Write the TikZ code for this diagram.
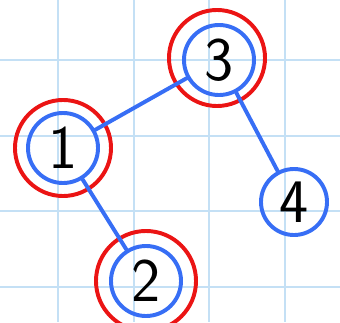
\documentclass[tikz,border=0pt]{standalone}
\definecolor{gridblue}{RGB}{196,224,245}
\definecolor{penblue}{RGB}{55,110,245}
\definecolor{penred}{RGB}{235,20,20}
\tikzset{
  gridline/.style={gridblue, line width=1.4pt},
  vtx/.style={circle, draw=penblue, line width=2.8pt, minimum size=1.75cm, inner sep=0pt,
    font=\sffamily\fontsize{44}{44}\selectfont},
  ring/.style={circle, draw=penred, line width=2.8pt, minimum size=2.4cm, inner sep=0pt},
  edge/.style={penblue, line width=2.8pt, line cap=round},
}
\begin{document}
\begin{tikzpicture}[x=0.025cm, y=-0.025cm]
  % 画像サイズ (px)
  \def\w{340}
  \def\h{322}
  \clip (0,0) rectangle (\w,\h);

  % 方眼
  \foreach \x in {58,134,209,285} \draw[gridline] (\x,0) -- (\x,\h);
  \foreach \y in {60,136,211,287} \draw[gridline] (0,\y) -- (\w,\y);

  % 頂点
  \node[vtx] (n1) at (63,148) {1};
  \node[vtx] (n2) at (146,281) {2};
  \node[vtx] (n3) at (219,60) {3};
  \node[vtx, minimum size=1.65cm] (n4) at (294,202) {4};

  % 赤い丸 (1, 2, 3)
  \node[ring] (r1) at (n1) {};
  \node[ring, minimum size=2.5cm] (r2) at (n2) {};
  \node[ring] (r3) at (217,58) {};

  % 辺
  \draw[edge] (n1) -- (n3);
  \draw[edge] (n1) -- (n2);
  \draw[edge] (n3) -- (n4);

\end{tikzpicture}
\end{document}
